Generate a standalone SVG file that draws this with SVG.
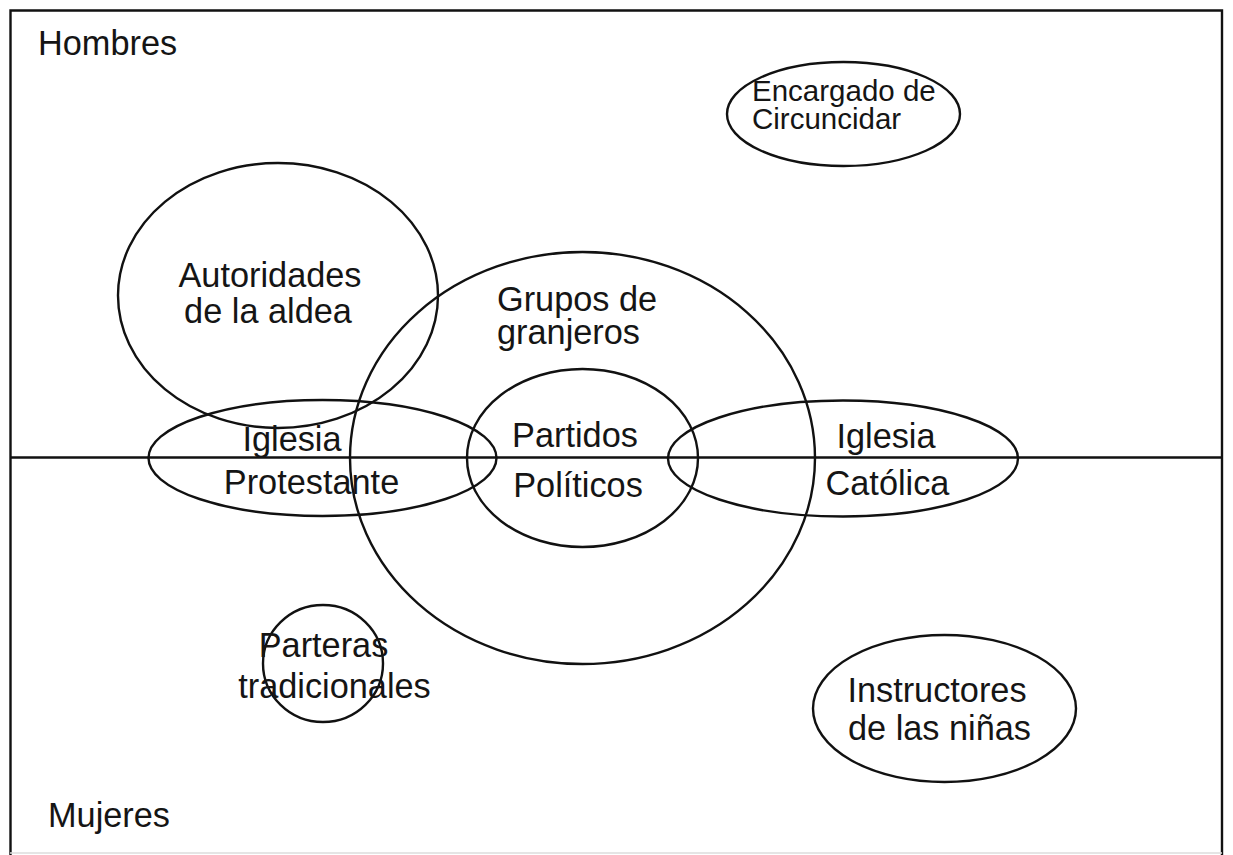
<svg xmlns="http://www.w3.org/2000/svg" width="1233" height="855" viewBox="0 0 1233 855">
<style>
.o{fill:none;stroke:#111;stroke-width:2.4}
.t{font-family:"Liberation Sans",Arial,sans-serif;font-size:34.3px;fill:#151515}
.c{text-anchor:middle}
</style>
<rect width="1233" height="855" fill="#fff"/>
<g id="frame">
<path class="o" d="M10.5,856 V10.5 H1222 V856"/>
<line x1="10" y1="853" x2="1222" y2="853" stroke="#ddd" stroke-width="1.5"/>
</g>
<g id="connectors">
<line class="o" x1="10" y1="457.5" x2="1222" y2="457.5"/>
</g>
<g id="hombres"><text class="t" x="38" y="55">Hombres</text></g>
<g id="mujeres"><text class="t" x="48" y="827">Mujeres</text></g>
<g id="encargado">
<ellipse class="o" cx="843.5" cy="114" rx="116.5" ry="52"/>
<text class="t" x="752" y="101" style="font-size:29.5px">Encargado de</text>
<text class="t" x="752" y="129" style="font-size:29.5px">Circuncidar</text>
</g>
<g id="autoridades">
<ellipse class="o" cx="278" cy="295.5" rx="160" ry="132.5"/>
<text class="t c" x="270" y="287">Autoridades</text>
<text class="t c" x="268" y="323">de la aldea</text>
</g>
<g id="granjeros">
<ellipse class="o" cx="582.5" cy="458" rx="232.5" ry="206"/>
<text class="t" x="497" y="311">Grupos de</text>
<text class="t" x="497" y="344">granjeros</text>
</g>
<g id="protestante">
<ellipse class="o" cx="322.5" cy="458" rx="174" ry="58"/>
<text class="t c" x="292" y="451">Iglesia</text>
<text class="t c" x="311.5" y="494">Protestante</text>
</g>
<g id="partidos">
<ellipse class="o" cx="582.5" cy="458" rx="115.5" ry="89"/>
<text class="t c" x="575" y="447">Partidos</text>
<text class="t c" x="578" y="497">Políticos</text>
</g>
<g id="catolica">
<ellipse class="o" cx="843" cy="458.5" rx="175" ry="58"/>
<text class="t c" x="886" y="448">Iglesia</text>
<text class="t c" x="887.5" y="495">Católica</text>
</g>
<g id="parteras">
<ellipse class="o" cx="323" cy="663.5" rx="60" ry="58.5"/>
<text class="t c" x="323.5" y="657">Parteras</text>
<text class="t c" x="334.5" y="698">tradicionales</text>
</g>
<g id="instructores">
<ellipse class="o" cx="944.5" cy="708.5" rx="131.5" ry="73.5"/>
<text class="t c" x="937" y="702">Instructores</text>
<text class="t c" x="939.5" y="740">de las niñas</text>
</g>
</svg>
